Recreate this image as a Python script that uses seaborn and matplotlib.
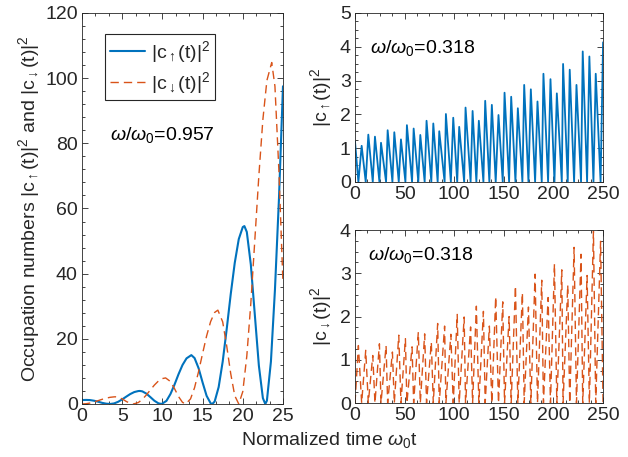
import numpy as np
import matplotlib
matplotlib.use('Agg')
import matplotlib.pyplot as plt
import seaborn as sns
from matplotlib.ticker import AutoMinorLocator, MultipleLocator

# ---------------- data ----------------
# left panel, omega/omega0 = 0.957
t_up_left = [0.0, 0.5, 1.0, 1.5, 2.0, 2.5, 3.0, 3.5, 4.0, 4.5, 5.0, 5.5, 6.0, 6.5, 7.0, 7.2, 7.5,
             8.0, 8.5, 9.0, 9.5, 9.9, 10.5, 11.0, 11.5, 12.0, 12.5, 13.0, 13.6, 14.0, 14.5, 15.0,
             15.5, 16.0, 16.2, 16.5, 17.0, 17.5, 18.0, 18.5, 19.0, 19.5, 20.0, 20.2, 20.5, 21.0,
             21.5, 22.0, 22.5, 22.8, 23.0, 23.5, 24.0, 24.5, 25.0]
c_up_left = [1.2, 1.25, 1.2, 1.0, 0.7, 0.35, 0.1, 0.0, 0.18, 0.68, 1.42, 2.25, 3.05, 3.66, 3.97, 4.0, 3.88,
             3.19, 2.12, 1.0, 0.21, 0.0, 0.95, 3.05, 5.9, 9.1, 11.96, 14.0, 15.0, 14.1, 11.0, 6.6,
             2.5, 0.22, 0.0, 0.75, 5.2, 13.0, 23.0, 33.7, 43.3, 50.6, 54.3, 54.6, 52.8, 42.8,
             27.3, 11.8, 1.8, 0.0, 1.0, 13.0, 35.0, 63.0, 97.5]

t_dn_left = [0.0, 0.5, 1.0, 1.5, 2.0, 2.5, 3.0, 3.5, 4.0, 4.2, 4.5, 5.0, 5.5, 6.0, 6.4, 7.0, 7.5,
             8.0, 8.5, 9.0, 9.5, 10.0, 10.4, 11.0, 11.5, 12.0, 12.5, 12.9, 13.5, 14.0, 14.5, 15.0,
             15.5, 16.0, 16.5, 16.9, 17.5, 18.0, 18.5, 19.0, 19.5, 20.0, 20.5, 21.0, 21.5, 22.0,
             22.5, 23.0, 23.6, 24.0, 24.5, 25.0]
c_dn_left = [0.0, 0.08, 0.29, 0.62, 1.02, 1.43, 1.79, 2.05, 2.19, 2.2, 2.1, 1.55, 0.79, 0.18, 0.0, 0.44, 1.4,
             2.76, 4.3, 5.8, 7.04, 7.8, 8.0, 6.9, 4.75, 2.3, 0.5, 0.0, 1.57, 5.0, 9.95, 15.5,
             20.9, 25.3, 28.1, 28.8, 25.2, 17.8, 9.3, 2.55, 0.0, 3.8, 14.7, 30.9, 50.4, 70.1,
             87.3, 99.3, 104.8, 97.5, 71.2, 37.0]

# right panels, omega/omega0 = 0.318 : peak times and heights
up_peak_t = [0.0, 6.7, 13.4, 20.1, 26.2, 32.9, 39.6, 46.3, 52.3, 59.1, 65.8, 72.1, 78.9, 84.9,
             91.6, 99.0, 105.0, 111.4, 118.5, 124.8, 131.2, 137.9, 144.6, 150.7, 157.4, 164.1,
             170.5, 177.2, 183.9, 189.9, 197.0, 203.4, 209.7, 216.4, 223.2, 229.5, 236.2, 242.6, 250.0]
up_peak_h = [1.2, 1.07, 1.4, 1.34, 1.16, 1.53, 1.47, 1.26, 1.68, 1.58, 1.39, 1.81, 1.73, 1.5,
             2.01, 1.9, 1.63, 2.2, 2.1, 1.81, 2.4, 2.28, 1.98, 2.64, 2.52, 2.18, 2.87, 2.74, 2.38,
             3.2, 3.04, 2.62, 3.49, 3.32, 2.87, 3.86, 3.71, 3.2, 4.13]

dn_peak_t = [3.4, 10.8, 17.9, 24.6, 31.3, 37.7, 44.1, 50.8, 57.5, 63.8, 70.2, 76.9, 83.3, 90.3,
             96.6, 103.0, 110.0, 116.5, 122.3, 129.4, 135.4, 141.8, 148.9, 155.3, 161.7, 168.7,
             174.8, 181.5, 188.2, 194.6, 201.0, 208.4, 214.4, 220.8, 227.8, 233.9, 240.3, 247.5]
dn_peak_h = [1.33, 1.22, 1.1, 1.37, 1.33, 1.18, 1.57, 1.49, 1.3, 1.64, 1.6, 1.41, 1.84, 1.78,
             1.59, 2.05, 1.99, 1.76, 2.24, 2.12, 1.78, 2.46, 2.34, 2.0, 2.71, 2.55, 2.22, 2.98,
             2.84, 2.44, 3.22, 3.08, 2.73, 3.6, 3.44, 2.95, 3.97, 3.74]

BLUE = '#0072BD'
ORANGE = '#D95319'
DARK = '#262626'

# ---------------- style ----------------
sns.set_style('ticks')
plt.rcParams['font.family'] = ['Liberation Sans', 'DejaVu Sans']
plt.rcParams['mathtext.fontset'] = 'custom'
plt.rcParams['mathtext.rm'] = 'Liberation Sans'
plt.rcParams['mathtext.it'] = 'Liberation Sans:italic'
plt.rcParams['mathtext.bf'] = 'Liberation Sans:bold'
plt.rcParams['mathtext.sf'] = 'Liberation Sans'
FS = 14

fig = plt.figure(figsize=(6.28, 4.57), dpi=100)
ax1 = fig.add_axes([0.1306, 0.116, 0.320, 0.8556])
ax2 = fig.add_axes([0.5653, 0.6018, 0.395, 0.370])
ax3 = fig.add_axes([0.5653, 0.118, 0.395, 0.3786])


def style(ax, xmaj, xminor_n, ymaj, yminor_n):
    for s in ax.spines.values():
        s.set_visible(True)
        s.set_color(DARK)
        s.set_linewidth(0.6)
    ax.xaxis.set_major_locator(MultipleLocator(xmaj))
    ax.yaxis.set_major_locator(MultipleLocator(ymaj))
    ax.xaxis.set_minor_locator(AutoMinorLocator(xminor_n))
    ax.yaxis.set_minor_locator(AutoMinorLocator(yminor_n))
    ax.tick_params(which='both', direction='in', top=True, right=True,
                   color=DARK, width=0.6, labelsize=FS, labelcolor=DARK)
    ax.tick_params(which='major', length=4, pad=3)
    ax.tick_params(which='minor', length=2.2)
    ax.grid(False)


# ---------------- left panel ----------------
sns.lineplot(x=t_up_left, y=c_up_left, ax=ax1, color=BLUE, linewidth=1.5,
             estimator=None, sort=False, legend=False)
l_up = ax1.lines[-1]
sns.lineplot(x=t_dn_left, y=c_dn_left, ax=ax1, color=ORANGE, linewidth=1.0,
             estimator=None, sort=False, legend=False)
l_dn = ax1.lines[-1]
l_dn.set_dashes((6, 3.6))
ax1.set_xlim(0, 25)
ax1.set_ylim(0, 120)
style(ax1, 5, 3, 20, 5)
ax1.set_xlabel('')
ax1.set_ylabel(r'Occupation numbers $|\mathrm{c}_{\uparrow}\mathrm{(t)}|^{2}$ and $|\mathrm{c}_{\downarrow}\mathrm{(t)}|^{2}$',
               fontsize=FS, color=DARK, labelpad=2)
leg = ax1.legend([l_up, l_dn],
                 [r'$|\mathrm{c}_{\uparrow}\mathrm{(t)}|^{2}$', r'$|\mathrm{c}_{\downarrow}\mathrm{(t)}|^{2}$'],
                 loc='upper left', bbox_to_anchor=(0.114, 0.946), borderaxespad=0,
                 fontsize=FS, frameon=True, fancybox=False, framealpha=1,
                 edgecolor=DARK, handlelength=1.8, handletextpad=0.3, borderpad=0.25,
                 labelspacing=0.25)
leg.get_frame().set_linewidth(0.8)
ax1.text(0.139, 0.675, r'$\omega/\omega_0$=0.957', transform=ax1.transAxes,
         fontsize=FS, color='black', va='baseline', ha='left')

# ---------------- right top (|c_up|^2) ----------------
top_t = up_peak_t + dn_peak_t
top_y = up_peak_h + [0.0] * len(dn_peak_t)
order = np.argsort(top_t)
sns.lineplot(x=np.array(top_t)[order], y=np.array(top_y)[order], ax=ax2, color=BLUE,
             linewidth=1.3, estimator=None, sort=False, legend=False)
ax2.set_xlim(0, 250)
ax2.set_ylim(0, 5)
style(ax2, 50, 4, 1, 4)
ax2.set_xlabel('')
ax2.set_ylabel(r'$|\mathrm{c}_{\uparrow}\mathrm{(t)}|^{2}$', fontsize=FS, color=DARK)
ax2.text(0.06, 0.763, r'$\omega/\omega_0$=0.318', transform=ax2.transAxes,
         fontsize=FS, color='black', va='baseline', ha='left')

# ---------------- right bottom (|c_dn|^2) ----------------
bot_zero_t = up_peak_t
bot_t = dn_peak_t + bot_zero_t
bot_y = dn_peak_h + [0.0] * len(bot_zero_t)
order = np.argsort(bot_t)
sns.lineplot(x=np.array(bot_t)[order], y=np.array(bot_y)[order], ax=ax3, color=ORANGE,
             linewidth=1.0, estimator=None, sort=False, legend=False)
ax3.lines[-1].set_dashes((6, 3.6))
ax3.set_xlim(0, 250)
ax3.set_ylim(0, 4)
style(ax3, 50, 4, 1, 4)
ax3.set_xlabel('')
ax3.set_ylabel(r'$|\mathrm{c}_{\downarrow}\mathrm{(t)}|^{2}$', fontsize=FS, color=DARK)
ax3.text(0.052, 0.827, r'$\omega/\omega_0$=0.318', transform=ax3.transAxes,
         fontsize=FS, color='black', va='baseline', ha='left')

fig.text(0.525, 0.027, r'Normalized time $\omega_{0}$t', fontsize=FS, color=DARK,
         ha='center', va='baseline')

fig.savefig('out.png', dpi=100)
